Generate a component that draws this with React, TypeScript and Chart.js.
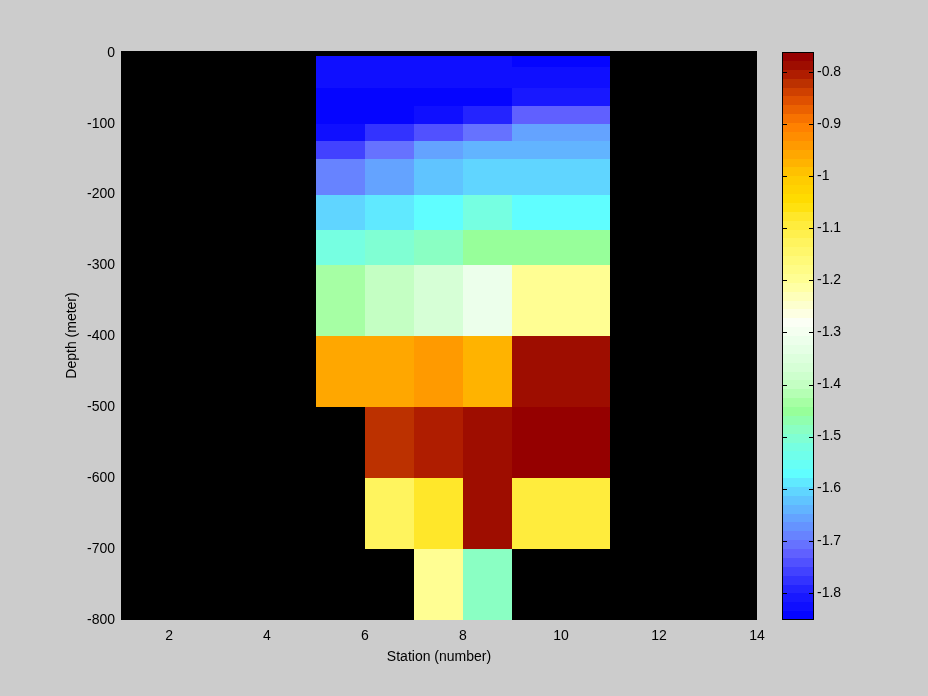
import { useEffect, useRef } from "react";
import { Chart, registerables } from "chart.js";

Chart.register(...registerables);

// ---- data ----
const STATION_EDGES = [5, 6, 7, 8, 9, 11];
const DEPTH_EDGES = [-5, -20, -50, -75, -100, -125, -150, -200, -250, -300, -400, -500, -600, -700, -800];
// one array per station column, shallow row first (null = no data)
const STATION_5 = [-1.83, -1.83, -1.85, -1.85, -1.83, -1.76, -1.69, -1.6, -1.52, -1.43, -0.955, null, null, null];
const STATION_6 = [-1.83, -1.83, -1.85, -1.85, -1.775, -1.7, -1.65, -1.585, -1.51, -1.4, -0.955, -0.82, -1.13, null];
const STATION_7 = [-1.83, -1.83, -1.85, -1.83, -1.745, -1.66, -1.62, -1.565, -1.49, -1.37, -0.935, -0.805, -1.08, -1.2];
const STATION_8 = [-1.83, -1.83, -1.85, -1.795, -1.705, -1.64, -1.6, -1.52, -1.45, -1.32, -0.97, -0.79, -0.79, -1.48];
const STATION_9 = [-1.85, -1.83, -1.81, -1.725, -1.66, -1.64, -1.6, -1.565, -1.445, -1.2, -0.79, -0.77, -1.09, null];
const COLUMNS = [STATION_5, STATION_6, STATION_7, STATION_8, STATION_9];

const X_TICKS = [2, 4, 6, 8, 10, 12, 14];
const Y_TICKS = [0, -100, -200, -300, -400, -500, -600, -700, -800];
const CB_TICKS = [-1.8, -1.7, -1.6, -1.5, -1.4, -1.3, -1.2, -1.1, -1, -0.9, -0.8];
const C_MIN = -1.8525;
const C_MAX = -0.761;
const N_LEVELS = 64;

// colormap anchors
const CMAP_VALUES = [-1.8525, -1.8, -1.72, -1.7, -1.66, -1.62, -1.6, -1.57, -1.52, -1.49, -1.45, -1.43, -1.4, -1.37, -1.32, -1.28, -1.2, -1.13, -1.08, -1.05, -1.0, -0.97, -0.955, -0.935, -0.9, -0.85, -0.82, -0.805, -0.79, -0.77, -0.761];
const CMAP_COLORS = [[0,0,255],[30,30,255],[100,100,255],[104,122,255],[100,160,255],[96,198,255],[96,218,255],[96,255,255],[118,255,225],[136,255,200],[152,255,152],[170,255,168],[196,255,196],[212,255,212],[234,255,234],[252,255,245],[255,255,150],[255,245,96],[255,232,48],[255,222,0],[255,200,0],[255,176,0],[255,165,0],[255,150,0],[255,125,0],[220,75,0],[187,48,0],[176,30,0],[160,16,0],[150,0,0],[140,0,0]];

const FONT = '"Liberation Sans", Arial, Helvetica, sans-serif';

function anchorColor(v: number): string {
  if (v <= CMAP_VALUES[0]) return `rgb(${CMAP_COLORS[0].join(",")})`;
  for (let i = 1; i < CMAP_VALUES.length; i++) {
    if (v <= CMAP_VALUES[i]) {
      const t = (v - CMAP_VALUES[i - 1]) / (CMAP_VALUES[i] - CMAP_VALUES[i - 1]);
      const a = CMAP_COLORS[i - 1], b = CMAP_COLORS[i];
      const c = a.map((x, k) => Math.round(x + (b[k] - x) * t));
      return `rgb(${c.join(",")})`;
    }
  }
  return `rgb(${CMAP_COLORS[CMAP_COLORS.length - 1].join(",")})`;
}
const W = (C_MAX - C_MIN) / N_LEVELS;
const LEVEL_COLORS = Array.from({ length: N_LEVELS }, (_, i) => anchorColor(C_MIN + (i + 0.5) * W));
function levelColor(v: number): string {
  let i = Math.floor((v - C_MIN) / W);
  i = Math.max(0, Math.min(N_LEVELS - 1, i));
  return LEVEL_COLORS[i];
}

const fieldPlugin = {
  id: "field",
  beforeDatasetsDraw(chart: any) {
    const { ctx, chartArea, scales } = chart;
    const xs = scales.x, ys = scales.y;
    ctx.save();
    ctx.fillStyle = "#000";
    ctx.fillRect(chartArea.left, chartArea.top, chartArea.right - chartArea.left, chartArea.bottom - chartArea.top);
    COLUMNS.forEach((col, c) => {
      const x0 = Math.round(xs.getPixelForValue(STATION_EDGES[c]));
      const x1 = Math.round(xs.getPixelForValue(STATION_EDGES[c + 1]));
      col.forEach((v, r) => {
        if (v === null) return;
        const y0 = Math.round(ys.getPixelForValue(DEPTH_EDGES[r]));
        const y1 = Math.round(ys.getPixelForValue(DEPTH_EDGES[r + 1]));
        ctx.fillStyle = levelColor(v);
        ctx.fillRect(x0, y0, x1 - x0, y1 - y0);
      });
    });
    ctx.restore();
  },
};

const colorbarPlugin = {
  id: "colorbar",
  beforeDatasetsDraw(chart: any) {
    const { ctx, chartArea, scales } = chart;
    const ys = scales.y;
    ctx.save();
    for (let i = 0; i < N_LEVELS; i++) {
      const y0 = Math.round(ys.getPixelForValue(C_MIN + i * W));
      const y1 = Math.round(ys.getPixelForValue(C_MIN + (i + 1) * W));
      ctx.fillStyle = LEVEL_COLORS[i];
      ctx.fillRect(chartArea.left, y1, chartArea.right - chartArea.left, y0 - y1);
    }
    ctx.strokeStyle = "#000";
    ctx.lineWidth = 1;
    ctx.strokeRect(chartArea.left + 0.5, chartArea.top + 0.5, chartArea.right - chartArea.left - 1, chartArea.bottom - chartArea.top - 1);
    ctx.beginPath();
    CB_TICKS.forEach((t) => {
      const y = Math.round(ys.getPixelForValue(t)) + 0.5;
      ctx.moveTo(chartArea.left, y);
      ctx.lineTo(chartArea.left + 5, y);
      ctx.moveTo(chartArea.right - 5, y);
      ctx.lineTo(chartArea.right, y);
    });
    ctx.stroke();
    ctx.restore();
  },
};

const tickFont = { family: FONT, size: 14 };

export default function App() {
  const mainRef = useRef<HTMLCanvasElement | null>(null);
  const cbRef = useRef<HTMLCanvasElement | null>(null);

  useEffect(() => {
    document.body.style.margin = "0";
    const main = new Chart(mainRef.current as HTMLCanvasElement, {
      type: "scatter",
      data: { datasets: [] },
      plugins: [fieldPlugin],
      options: {
        responsive: false,
        animation: false,
        devicePixelRatio: 1,
        layout: { padding: { left: 0, right: 171, top: 51, bottom: 0 } },
        plugins: { legend: { display: false }, tooltip: { enabled: false } },
        scales: {
          x: {
            type: "linear",
            min: 1.02,
            max: 14,
            afterBuildTicks: (s: any) => { s.ticks = X_TICKS.map((v) => ({ value: v })); },
            afterFit: (s: any) => { s.height = 76; },
            grid: { display: false, drawTicks: false },
            border: { display: false },
            ticks: { font: tickFont, color: "#000", padding: 8, maxRotation: 0, autoSkip: false, callback: (v: any) => String(v) },
            title: { display: true, text: "Station (number)", font: tickFont, color: "#000", padding: { top: 0, bottom: 30 } },
          },
          y: {
            type: "linear",
            min: -800,
            max: 2.5,
            afterBuildTicks: (s: any) => { s.ticks = Y_TICKS.map((v) => ({ value: v })); },
            afterFit: (s: any) => { s.width = 121; },
            grid: { display: false, drawTicks: false },
            border: { display: false },
            ticks: { font: tickFont, color: "#000", padding: 6, autoSkip: false, callback: (v: any) => String(v) },
            title: { display: true, text: "Depth (meter)", font: tickFont, color: "#000", padding: { top: 64, bottom: 0 } },
          },
        },
      },
    } as any);

    const cb = new Chart(cbRef.current as HTMLCanvasElement, {
      type: "scatter",
      data: { datasets: [] },
      plugins: [colorbarPlugin],
      options: {
        responsive: false,
        animation: false,
        devicePixelRatio: 1,
        layout: { padding: { left: 782, right: 0, top: 52, bottom: 76 } },
        plugins: { legend: { display: false }, tooltip: { enabled: false } },
        scales: {
          x: { type: "linear", display: false, min: 0, max: 1 },
          y: {
            type: "linear",
            position: "right",
            min: C_MIN,
            max: C_MAX,
            afterBuildTicks: (s: any) => { s.ticks = CB_TICKS.map((v) => ({ value: v })); },
            afterFit: (s: any) => { s.width = 928 - 814; },
            grid: { display: false, drawTicks: false },
            border: { display: false },
            ticks: { font: tickFont, color: "#000", padding: 3, autoSkip: false, callback: (v: any) => String(Math.round(v * 10) / 10) },
          },
        },
      },
    } as any);

    return () => {
      main.destroy();
      cb.destroy();
    };
  }, []);

  return (
    <div style={{ position: "fixed", left: 0, top: 0, width: 928, height: 696, background: "#cccccc" }}>
      <canvas ref={mainRef} width={928} height={696} style={{ position: "absolute", left: 0, top: 0, width: 928, height: 696 }} />
      <canvas ref={cbRef} width={928} height={696} style={{ position: "absolute", left: 0, top: 0, width: 928, height: 696 }} />
    </div>
  );
}
